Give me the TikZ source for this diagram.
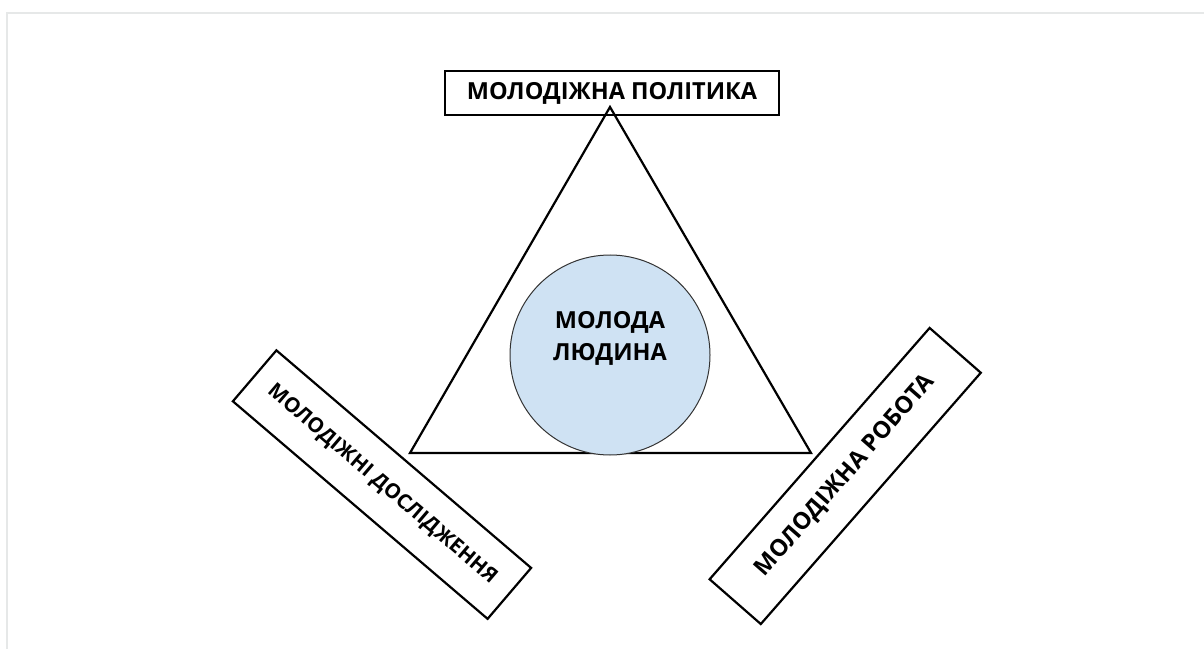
\documentclass[tikz,border=0pt]{standalone}
\usepackage{fontspec}
\setmainfont{Open Sans}
\usepackage{tikz}
\usetikzlibrary{positioning}
\definecolor{FrameGrey}{HTML}{E6E8E8}
\definecolor{CircleBlue}{HTML}{CFE2F3}
\definecolor{EdgeGrey}{HTML}{333333}
\newcommand\BoxHeight{44pt}
\newcommand\TiltHeight{67pt}
\tikzstyle{topbox}=[rectangle,draw=black,line width=2.2pt,inner sep=0pt,
                    minimum width=334pt,minimum height=\BoxHeight,
                    font=\bfseries\fontsize{23.5}{28}\selectfont]
\tikzstyle{tiltbox}=[rectangle,draw=black,line width=2.2pt,inner sep=0pt,
                    minimum width=335pt,minimum height=\TiltHeight,
                    font=\bfseries\fontsize{23.5}{28}\selectfont]
\tikzstyle{core}=[circle,draw=EdgeGrey,line width=1pt,fill=CircleBlue,
                    minimum size=200pt,inner sep=0pt]
\begin{document}
\begin{tikzpicture}[x=1pt,y=1pt]
   \useasboundingbox (0,0) rectangle (1204,649);
   % light frame along top and left
   \draw[FrameGrey,line width=2pt] (6.5,0) -- (6.5,636) -- (1204,636);
   \node[topbox] (policy) at (612,556) {МОЛОДІЖНА ПОЛІТИКА};
   \node[tiltbox,rotate=-40.5,font=\bfseries\fontsize{20.5}{24}\selectfont] (research) at (382,164.4) {МОЛОДІЖНІ ДОСЛІДЖЕННЯ};
   \node[tiltbox,rotate=48.8,minimum width=334pt,minimum height=68pt] (work) at (845.2,173) {МОЛОДІЖНА РОБОТА};
   \coordinate (apex) at (610,542);
   \coordinate (left) at (410,196);
   \coordinate (right) at (811,196);
   \draw[line width=2.2pt,line join=miter] (apex) -- (left) -- (right) -- cycle;
   \node[core] (youth) at (610,294) {};
   \node[align=center,font=\bfseries\fontsize{23.5}{32}\selectfont] (youthtext) at ([yshift=17pt]youth.center) {МОЛОДА\\ЛЮДИНА};
\end{tikzpicture}
\end{document}
